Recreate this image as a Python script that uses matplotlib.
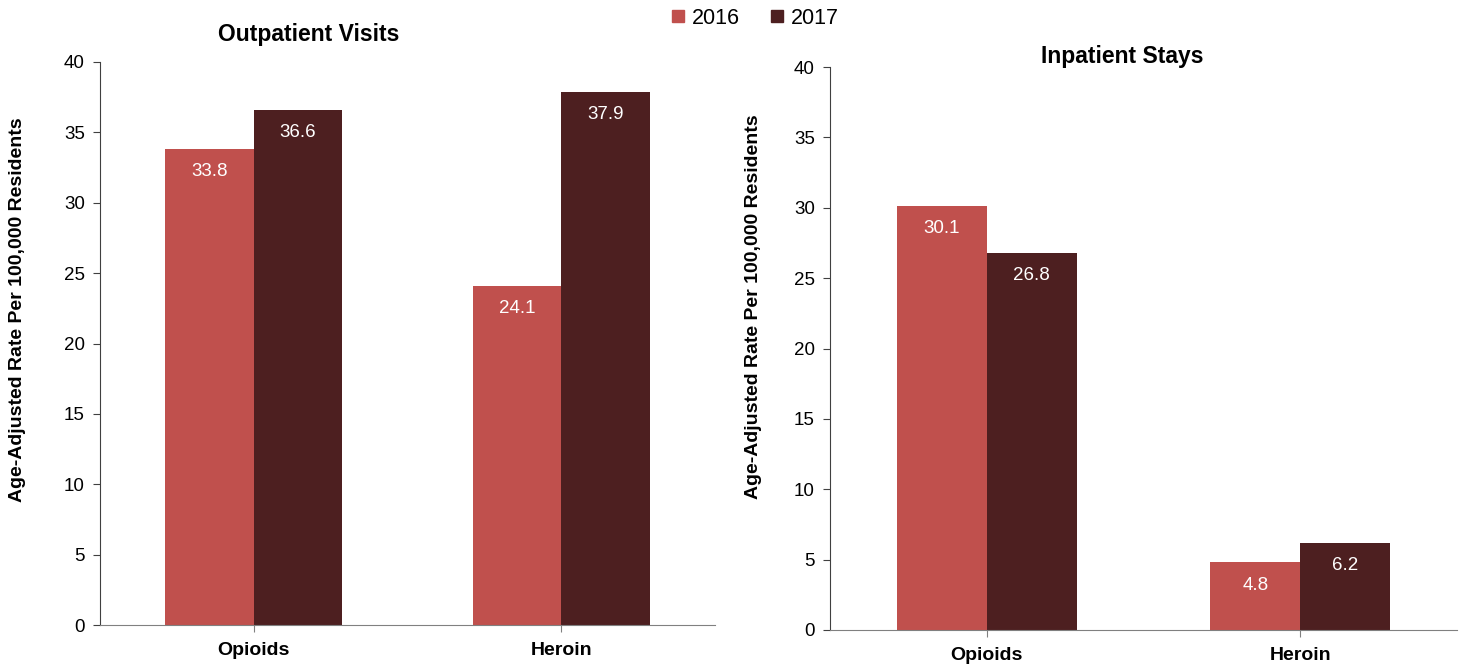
import numpy as np
import matplotlib.pyplot as plt
from matplotlib.lines import Line2D

plt.rcParams['font.family'] = ['Liberation Sans', 'DejaVu Sans']

categories = ['Opioids', 'Heroin']
years = ['2016', '2017']
outpatient_2016 = [33.8, 24.1]
outpatient_2017 = [36.6, 37.9]
inpatient_2016 = [30.1, 4.8]
inpatient_2017 = [26.8, 6.2]

colors = {'2016': '#C0504D', '2017': '#4D1F20'}
ylabel = 'Age-Adjusted Rate Per 100,000 Residents'


def draw_panel(ax, v2016, v2017, label_xy):
    x = np.arange(len(categories))
    w = 0.287
    b1 = ax.bar(x - w / 2, v2016, w, color=colors['2016'])
    b2 = ax.bar(x + w / 2, v2017, w, color=colors['2017'])
    for bars in (b1, b2):
        for r in bars:
            ax.text(r.get_x() + r.get_width() / 2, r.get_height() - 1.0,
                    f'{r.get_height():.1f}', ha='center', va='top',
                    color='white', fontsize=13.5)
    ax.set_xlim(-0.5, 1.5)
    ax.set_ylim(0, 40)
    ax.set_yticks(range(0, 41, 5))
    ax.set_xticks(x)
    ax.set_xticklabels(categories, fontweight='bold', fontsize=14)
    ax.tick_params(axis='y', labelsize=13.5, length=5, color='#404040', pad=6)
    ax.tick_params(axis='x', length=5, color='#808080', pad=7)
    ax.spines['top'].set_visible(False)
    ax.spines['right'].set_visible(False)
    ax.spines['left'].set_color('#404040')
    ax.spines['bottom'].set_color('#808080')
    ax.set_ylabel(ylabel, fontweight='bold', fontsize=14, va='center')
    ax.yaxis.set_label_coords(*label_xy)


fig = plt.figure(figsize=(14.65, 6.67), dpi=100)
ax1 = fig.add_axes([100 / 1465, 1 - 625 / 667, 615 / 1465, 563 / 667])
ax2 = fig.add_axes([830 / 1465, 1 - 630 / 667, 627 / 1465, 563 / 667])

draw_panel(ax1, outpatient_2016, outpatient_2017, (-82 / 615, (625 - 310) / 563))
draw_panel(ax2, inpatient_2016, inpatient_2017, (-77 / 627, (630 - 307) / 563))

fig.text(309 / 1465, 1 - 34 / 667, 'Outpatient Visits', ha='center', va='center',
         fontweight='bold', fontsize=16.5)
fig.text(1122 / 1465, 1 - 57 / 667, 'Inpatient Stays', ha='center', va='center',
         fontweight='bold', fontsize=16.5)

handles = [Line2D([], [], marker='s', linestyle='none', markersize=9,
                  color=colors[y]) for y in years]
fig.legend(handles, years, loc='center', bbox_to_anchor=(754 / 1465, 1 - 18 / 667),
           ncol=2, frameon=False, fontsize=15.5, handlelength=0.8,
           handletextpad=0.25, columnspacing=1.3)

fig.savefig('out.png', dpi=100)
